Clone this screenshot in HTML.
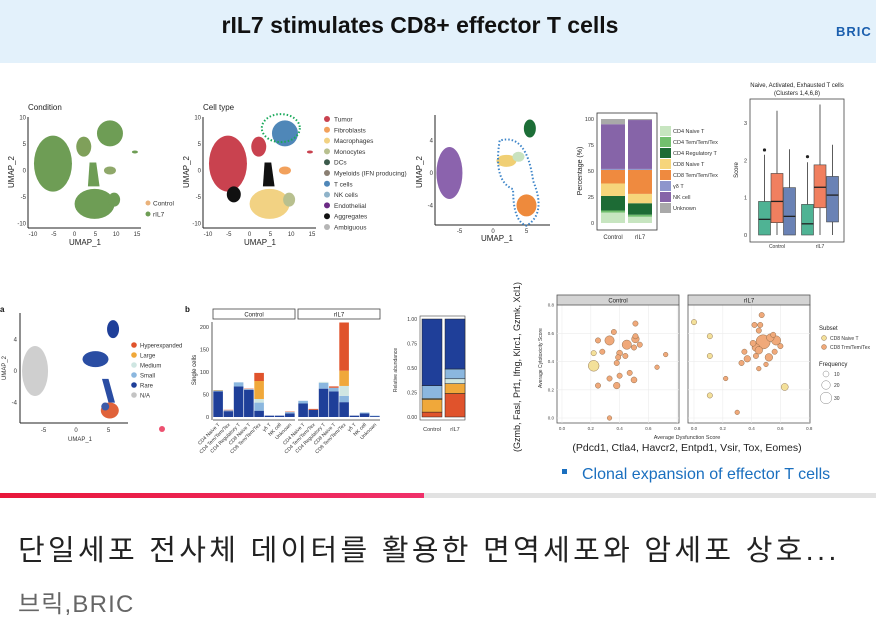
<!DOCTYPE html>
<html><head><meta charset="utf-8">
<style>
html,body{margin:0;padding:0;background:#fff;}
body{width:876px;height:628px;position:relative;overflow:hidden;font-family:"Liberation Sans",sans-serif;}
#hdr{position:absolute;left:0;top:0;width:876px;height:63px;background:#e3f1fb;}
#title{position:absolute;left:0;width:840px;top:12px;text-align:center;font-size:23px;font-weight:bold;color:#111;}
#logo{position:absolute;left:836px;top:24px;font-size:13px;font-weight:bold;color:#1b5fae;letter-spacing:1px;}
#prog{position:absolute;left:0;top:493px;width:876px;height:5px;background:#e2e2e2;}
#progfill{position:absolute;left:0;top:0;width:424px;height:5px;background:linear-gradient(90deg,#e8173a,#f0306a);}
#headline{position:absolute;left:18px;top:527px;font-size:29px;letter-spacing:3.3px;color:#222;font-family:"Liberation Sans","Noto Sans CJK KR",sans-serif;white-space:nowrap;}
#source{position:absolute;left:18px;top:584px;font-size:24px;letter-spacing:1.2px;color:#666;font-family:"Liberation Sans","Noto Sans CJK KR",sans-serif;}
svg text{font-family:"Liberation Sans",sans-serif;}
</style></head><body>
<div id="hdr">
  <div id="title">rIL7 stimulates CD8+ effector T cells</div>
  <div id="logo">BRIC</div>
</div>
<svg id="main" width="876" height="430" style="position:absolute;left:0;top:63px" viewBox="0 63 876 430"></svg>
<div id="prog"><div id="progfill"></div></div>
<div id="headline">단일세포 전사체 데이터를 활용한 면역세포와 암세포 상호...</div>
<div id="source">브릭,BRIC</div>
<script>
// ---------- data ----------
const stackCats = ["Control","rIL7"];
const stackSubsets = ["CD4 Naive T","CD4 Tem/Tem/Tex","CD4 Regulatory T","CD8 Naive T","CD8 Tem/Tem/Tex","γδ T","NK cell","Unknown"];
const stackControl = [10,2,14,12,13,1,43,5];
const stackRIL7 = [6,2,11,9,23,1,47,1];
const stackTicks = [0,25,50,75,100];

const boxGroups = ["Control","rIL7"];
// [whiskerLow, q1, median, q3, whiskerHigh, outlier]
const boxControl = [[0,0,0.42,0.9,2.15,2.28],[0,0.33,0.9,1.65,3.33,null],[0,0,0.5,1.27,2.3,null]];
const boxRIL7 = [[0,0,0.3,0.82,1.95,2.1],[0,0.73,1.28,1.88,3.5,null],[0,0.35,1.07,1.57,2.42,null]];
const boxTicks = [0,1,2,3];

const cloneCats = ["CD4 Naive T","CD4 Tem/Tem/Tex","CD4 Regulatory T","CD8 Naive T","CD8 Tem/Tem/Tex","γδ T","NK cell","Unknown"];
const cloneLevels = ["Rare","Small","Medium","Large","Hyperexpanded"];
const cloneControl = [[57,2,0,1,0],[13,2,0,0,1],[68,9,0,0,0],[60,2,0,0,1],[14,18,8,40,18],[3,0,0,0,0],[3,0,0,0,0],[8,3,0,0,1]];
const cloneRIL7 = [[30,6,0,0,0],[16,0,0,0,2],[63,13,2,0,0],[57,8,0,0,3],[33,14,22,34,107],[3,0,0,0,0],[8,2,0,0,0],[2,1,0,0,0]];
const cloneTicks = [0,50,100,150,200];

const relCats = ["Control","rIL7"];
const relControl = [0.68,0.13,0.01,0.13,0.05];
const relRIL7 = [0.51,0.10,0.05,0.10,0.24];
const relTicks = [0,0.25,0.5,0.75,1];

// scatter [x, y, size, subset(0 naive,1 tem)]
const scatControl = [[0.22,0.37,16,0],[0.22,0.46,4,0],[0.33,0.55,12,1],[0.45,0.52,12,1],[0.51,0.56,8,1],[0.28,0.47,4,1],[0.25,0.55,4,1],[0.36,0.61,4,1],[0.51,0.67,4,1],[0.40,0.46,5,1],[0.39,0.43,4,1],[0.44,0.44,4,1],[0.38,0.39,4,1],[0.50,0.50,4,1],[0.54,0.52,4,1],[0.51,0.58,4,1],[0.33,0.28,4,1],[0.40,0.30,4,1],[0.38,0.23,6,1],[0.47,0.32,4,1],[0.50,0.27,5,1],[0.25,0.23,4,1],[0.72,0.45,3,1],[0.66,0.36,3,1],[0.33,0.0,3,1]];
const scatRIL7 = [[0.48,0.54,28,1],[0.57,0.55,12,1],[0.53,0.57,8,1],[0.43,0.50,8,1],[0.45,0.48,8,1],[0.41,0.53,5,1],[0.52,0.43,8,1],[0.37,0.42,6,1],[0.35,0.47,4,1],[0.33,0.39,4,1],[0.55,0.59,4,1],[0.60,0.51,4,1],[0.56,0.47,4,1],[0.43,0.44,4,1],[0.45,0.62,4,1],[0.46,0.66,4,1],[0.42,0.66,4,1],[0.47,0.73,4,1],[0.45,0.35,3,1],[0.50,0.38,3,1],[0.22,0.28,3,1],[0.30,0.04,3,1],[0.63,0.22,7,0],[0.11,0.58,4,0],[0.11,0.44,4,0],[0.11,0.16,4,0],[0.0,0.68,4,0]];
const scatTicks = [0,0.2,0.4,0.6,0.8];

// ---------- helpers ----------
const NS="http://www.w3.org/2000/svg";
const svg=document.getElementById('main');
function el(tag,attrs,parent,txt){const e=document.createElementNS(NS,tag);for(const k in attrs)e.setAttribute(k,attrs[k]);if(txt!==undefined)e.textContent=txt;(parent||svg).appendChild(e);return e;}
function g(name){const e=el('g',{});return e;}

// ---------- UMAP shapes (illustrative) ----------
function umap(ox,name,colors){
  const G=g(name);
  const sx=v=>ox+(v+10)*4.16, sy=v=>170.5-v*5.3;
  el('line',{x1:ox-5,y1:117,x2:ox-5,y2:228,stroke:'#222','stroke-width':1},G);
  el('line',{x1:ox-5,y1:228,x2:ox+108,y2:228,stroke:'#222','stroke-width':1},G);
  [-10,-5,0,5,10,15].forEach(t=>el('text',{x:sx(t),y:236,'font-size':6,'text-anchor':'middle',fill:'#333'},G,t));
  [10,5,0,-5,-10].forEach(t=>el('text',{x:ox-7,y:sy(t)+2,'font-size':6,'text-anchor':'end',fill:'#333'},G,t));
  el('text',{x:sx(2.5),y:245,'font-size':8,'text-anchor':'middle',fill:'#222'},G,'UMAP_1');
  el('text',{x:0,y:0,'font-size':8,'text-anchor':'middle',fill:'#222',transform:`translate(${ox-19},172) rotate(-90)`},G,'UMAP_2');
  const c=colors;
  el('ellipse',{cx:sx(-5.2),cy:sy(1.3),rx:19,ry:28,fill:c.left},G);
  el('ellipse',{cx:sx(4.8),cy:sy(-6.3),rx:20,ry:15,fill:c.bottom},G);
  el('path',{d:`M${sx(3.2)} ${sy(-3)} L${sx(3.6)} ${sy(1.5)} L${sx(5.2)} ${sy(1.5)} L${sx(6)} ${sy(-3)} Z`,fill:c.stem},G);
  el('ellipse',{cx:sx(2.2),cy:sy(4.5),rx:7.5,ry:10,fill:c.small},G);
  el('ellipse',{cx:sx(8.5),cy:sy(7),rx:13,ry:13,fill:c.top},G);
  el('ellipse',{cx:sx(9.5),cy:sy(-5.5),rx:6,ry:7,fill:c.mono},G);
  el('ellipse',{cx:sx(8.5),cy:sy(0),rx:6,ry:4,fill:c.fib},G);
  el('ellipse',{cx:sx(14.5),cy:sy(3.5),rx:3,ry:1.5,fill:c.left},G);
  return {G,sx,sy};
}
el('text',{x:28,y:110,'font-size':8,fill:'#222'},null,'Condition');
const u1=umap(33,'umap-condition',{left:'#6e9d55',bottom:'#6e9d55',stem:'#6e9d55',small:'#7fa05a',top:'#6e9d55',mono:'#6e9d55',fib:'#8fa86a'});
[['Control','#eab27b',203],['rIL7','#6e9d55',214]].forEach(([t,c,y])=>{const L=g('legend-entry');el('circle',{cx:148,cy:y,r:2.5,fill:c},L);el('text',{x:153,y:y+2.5,'font-size':6.5,fill:'#333'},L,t);});

el('text',{x:203,y:110,'font-size':8,fill:'#222'},null,'Cell type');
const u2=umap(208,'umap-cell-type',{left:'#c9424f',bottom:'#f2d283',stem:'#111',small:'#c9424f',top:'#4f87b8',mono:'#b8c08f',fib:'#f2a15c'});
el('ellipse',{cx:u2.sx(-3.8),cy:u2.sy(-4.5),rx:7,ry:8,fill:'#111'},u2.G);
el('ellipse',{cx:u2.sx(7.5),cy:u2.sy(8),rx:19,ry:14,fill:'none',stroke:'#19a95a','stroke-width':2,'stroke-dasharray':'1.5,2'},u2.G);
const ctNames=['Tumor','Fibroblasts','Macrophages','Monocytes','DCs','Myeloids (IFN producing)','T cells','NK cells','Endothelial','Aggregates','Ambiguous'];
const ctCols=['#c9424f','#f2a15c','#f2d283','#b8c08f','#3b5a4b','#8a7f72','#4f87b8','#8fb3c9','#6b2a84','#111','#b5b5b5'];
ctNames.forEach((t,i)=>{const L=g('legend-entry');const y=119+i*10.8;el('circle',{cx:327,cy:y,r:3,fill:ctCols[i]},L);el('text',{x:334,y:y+2.5,'font-size':6.5,fill:'#333'},L,t);});

// UMAP T cells (panel 3)
(function(){
  const G=g('umap-t-cells');
  const sx=v=>493+v*6.7, sy=v=>173-v*8.1;
  el('line',{x1:435,y1:115,x2:435,y2:225,stroke:'#222'},G);
  el('line',{x1:435,y1:225,x2:550,y2:225,stroke:'#222'},G);
  [-5,0,5].forEach(t=>el('text',{x:sx(t),y:233,'font-size':6,'text-anchor':'middle',fill:'#333'},G,t));
  [4,0,-4].forEach(t=>el('text',{x:433,y:sy(t)+2,'font-size':6,'text-anchor':'end',fill:'#333'},G,t));
  el('text',{x:497,y:241,'font-size':8,'text-anchor':'middle',fill:'#222'},G,'UMAP_1');
  el('text',{x:0,y:0,'font-size':8,'text-anchor':'middle',fill:'#222',transform:'translate(422,172) rotate(-90)'},G,'UMAP_2');
  el('ellipse',{cx:sx(-6.5),cy:sy(0),rx:13,ry:26,fill:'#8b63ad'},G);
  el('ellipse',{cx:sx(5.5),cy:sy(5.5),rx:6,ry:9,fill:'#1c6e37'},G);
  el('ellipse',{cx:sx(2),cy:sy(1.5),rx:10,ry:6,fill:'#f0cf74'},G);
  el('ellipse',{cx:sx(3.8),cy:sy(2),rx:6,ry:5,fill:'#c9e2bf'},G);
  el('ellipse',{cx:sx(5),cy:sy(-4),rx:10,ry:11,fill:'#ee8a3c'},G);
  el('path',{d:`M${sx(1)} ${sy(4)} Q${sx(0)} ${sy(-1)} ${sx(3)} ${sy(-2)} Q${sx(3)} ${sy(-6)} ${sx(5)} ${sy(-6.5)} Q${sx(8)} ${sy(-5)} ${sx(6)} ${sy(-1)} Q${sx(5)} ${sy(5)} ${sx(1)} ${sy(4)}`,fill:'none',stroke:'#3f86c9','stroke-width':2,'stroke-dasharray':'1.5,2'},G);
})();

// ---------- stacked percentage bars ----------
(function(){
  const G=g('percentage-stacked-chart');
  const cols=['#c7e5c0','#72bf6e','#1d6b35','#f6d57b','#ef8a3f','#8e96cc','#8664a8','#a9a9a9'];
  const y0=223,y1=119, ys=v=>y0-(v/100)*(y0-y1);
  el('rect',{x:597,y:113,width:60,height:117,fill:'#fff',stroke:'#333','stroke-width':0.8},G);
  stackTicks.forEach(t=>{el('text',{x:594,y:ys(t)+2,'font-size':5.5,'text-anchor':'end',fill:'#333'},G,t);});
  el('text',{x:0,y:0,'font-size':7,'text-anchor':'middle',fill:'#222',transform:'translate(582,171) rotate(-90)'},G,'Percentage (%)');
  [stackControl,stackRIL7].forEach((vals,i)=>{
    const x=601+i*27; let acc=0;
    vals.forEach((v,j)=>{const r=el('rect',{x:x,y:ys(acc+v),width:24,height:ys(acc)-ys(acc+v),fill:cols[j]},G);acc+=v;});
    el('text',{x:x+12,y:239,'font-size':6,'text-anchor':'middle',fill:'#333'},G,stackCats[i]);
  });
  stackSubsets.forEach((t,i)=>{const L=g('legend-entry');const y=126+i*11;el('rect',{x:660,y:y,width:11,height:10,fill:cols[i]},L);el('text',{x:673,y:y+7,'font-size':5.5,fill:'#333'},L,t);});
})();

// ---------- boxplot ----------
(function(){
  const G=g('score-boxplot');
  const cols=['#4fb394','#f07f5f','#6a82b5'];
  const ys=v=>235-v*37.3;
  el('text',{x:797,y:87,'font-size':6,'text-anchor':'middle',fill:'#222'},G,'Naive, Activated, Exhausted T cells');
  el('text',{x:797,y:95,'font-size':6,'text-anchor':'middle',fill:'#222'},G,'(Clusters 1,4,6,8)');
  el('rect',{x:750,y:99,width:94,height:143,fill:'#fff',stroke:'#444','stroke-width':0.8},G);
  boxTicks.forEach(t=>el('text',{x:747,y:ys(t)+2,'font-size':5.5,'text-anchor':'end',fill:'#333'},G,t));
  el('text',{x:0,y:0,'font-size':6,'text-anchor':'middle',fill:'#222',transform:'translate(738,170) rotate(-90)'},G,'Score');
  [boxControl,boxRIL7].forEach((grp,i)=>{
    const cx=777+i*43;
    el('text',{x:cx,y:248,'font-size':5,'text-anchor':'middle',fill:'#333'},G,boxGroups[i]);
    grp.forEach((b,j)=>{
      const x=cx+(j-1)*12.5; const B=g('box');G.appendChild(B);
      el('line',{x1:x,y1:ys(b[0]),x2:x,y2:ys(b[4]),stroke:'#333','stroke-width':0.8},B);
      el('rect',{x:x-6,y:ys(b[3]),width:12,height:ys(b[1])-ys(b[3]),fill:cols[j],stroke:'#444','stroke-width':0.6},B);
      el('line',{x1:x-6,y1:ys(b[2]),x2:x+6,y2:ys(b[2]),stroke:'#222','stroke-width':1.3},B);
      if(b[5]!==null)el('circle',{cx:x,cy:ys(b[5]),r:1.6,fill:'#222'},B);
    });
  });
})();

// ---------- clonotype UMAP (a) ----------
(function(){
  const G=g('umap-clonotype');
  el('text',{x:0,y:312,'font-size':8,'font-weight':'bold',fill:'#111'},G,'a');
  const sx=v=>76+v*6.5, sy=v=>371-v*7.9;
  el('line',{x1:20,y1:313,x2:20,y2:423,stroke:'#222'},G);
  el('line',{x1:20,y1:423,x2:128,y2:423,stroke:'#222'},G);
  [-5,0,5].forEach(t=>el('text',{x:sx(t),y:432,'font-size':6,'text-anchor':'middle',fill:'#333'},G,t));
  [4,0,-4].forEach(t=>el('text',{x:17,y:sy(t)+2,'font-size':6,'text-anchor':'end',fill:'#333'},G,t));
  el('text',{x:80,y:441,'font-size':6,'text-anchor':'middle',fill:'#333'},G,'UMAP_1');
  el('text',{x:0,y:0,'font-size':6,'text-anchor':'middle',fill:'#333',transform:'translate(6,368) rotate(-90)'},G,'UMAP_2');
  el('ellipse',{cx:sx(-6.3),cy:sy(0),rx:13,ry:25,fill:'#cfcfcf'},G);
  el('ellipse',{cx:sx(5.7),cy:sy(5.3),rx:6,ry:9,fill:'#1f3f99'},G);
  el('ellipse',{cx:sx(3),cy:sy(1.5),rx:13,ry:8,fill:'#2a4da3'},G);
  el('path',{d:`M${sx(4)} ${sy(-1)} L${sx(5)} ${sy(-4)} L${sx(6)} ${sy(-4)} L${sx(5)} ${sy(-1)} Z`,fill:'#2a4da3'},G);
  el('ellipse',{cx:sx(5.2),cy:sy(-5),rx:9,ry:8,fill:'#e0623a'},G);
  el('ellipse',{cx:sx(4.5),cy:sy(-4.5),rx:4,ry:4,fill:'#3e5ba8'},G);
  el('circle',{cx:162,cy:429,r:3,fill:'#e8264c',opacity:0.8},G);
  const nm=['Hyperexpanded','Large','Medium','Small','Rare','N/A'],cc=['#e0532c','#f0a83a','#cfe6e2','#8bb7df','#1f3f99','#c4c4c4'];
  nm.forEach((t,i)=>{const L=g('legend-entry');const y=345+i*10;el('circle',{cx:134,cy:y,r:2.8,fill:cc[i]},L);el('text',{x:140,y:y+2.3,'font-size':6,fill:'#333'},L,t);});
})();

// ---------- clone size bar chart (b) ----------
(function(){
  const G=g('clone-bar-chart');
  const cols=['#1f3f99','#8bb7df','#cfe6e2','#f0a83a','#e0532c'];
  const ys=v=>417-v*0.45;
  el('text',{x:185,y:312,'font-size':8,'font-weight':'bold',fill:'#111'},G,'b');
  el('line',{x1:212,y1:322,x2:212,y2:420,stroke:'#333','stroke-width':0.8},G);
  cloneTicks.forEach(t=>el('text',{x:209,y:ys(t)+2,'font-size':5.5,'text-anchor':'end',fill:'#333'},G,t));
  el('text',{x:0,y:0,'font-size':6,'text-anchor':'middle',fill:'#222',transform:'translate(196,370) rotate(-90)'},G,'Single cells');
  [[cloneControl,'Control',213],[cloneRIL7,'rIL7',298]].forEach(([data,lab,x0])=>{
    el('rect',{x:x0,y:309,width:82,height:10,fill:'#fff',stroke:'#444','stroke-width':0.8},G);
    el('text',{x:x0+41,y:316.5,'font-size':6,'text-anchor':'middle',fill:'#222'},G,lab);
    el('line',{x1:x0,y1:420,x2:x0+82,y2:420,stroke:'#333','stroke-width':0.8},G);
    data.forEach((vals,i)=>{
      const x=x0+i*10.25; let acc=0;
      vals.forEach((v,j)=>{if(v<=0)return;const r=el('rect',{x:x+0.3,y:ys(acc+v),width:9.6,height:ys(acc)-ys(acc+v),fill:cols[j]},G);acc+=v;});
      el('text',{x:0,y:0,'font-size':5,'text-anchor':'end',fill:'#333',transform:`translate(${x+7},425) rotate(-45)`},G,cloneCats[i]);
    });
  });
  const ry=v=>417-v*98;
  el('rect',{x:420,y:316,width:45,height:104,fill:'#fff',stroke:'#444','stroke-width':0.6},G);
  relTicks.forEach(t=>el('text',{x:417,y:ry(t)+2,'font-size':5,'text-anchor':'end',fill:'#333'},G,t.toFixed(2)));
  el('text',{x:0,y:0,'font-size':5,'text-anchor':'middle',fill:'#333',transform:'translate(397,370) rotate(-90)'},G,'Relative abundance');
  [relControl,relRIL7].forEach((vals,i)=>{
    const x=422+i*23; let acc=0;
    const order=[4,3,2,1,0];
    order.forEach(j=>{const v=vals[j];const r=el('rect',{x:x,y:ry(acc+v),width:20,height:ry(acc)-ry(acc+v),fill:cols[j],stroke:'#222','stroke-width':0.5},G);acc+=v;});
    el('text',{x:x+10,y:431,'font-size':5.5,'text-anchor':'middle',fill:'#333'},G,relCats[i]);
  });
})();

// ---------- scatter ----------
(function(){
  const G=g('cytotoxicity-scatter');
  const ys=v=>418-v*141;
  el('text',{x:0,y:0,'font-size':9,'text-anchor':'middle',fill:'#222',transform:'translate(520,367) rotate(-90)'},G,'(Gzmb, Fasl, Prf1, Ifng, Klrc1, Gzmk, Xcl1)');
  el('text',{x:0,y:0,'font-size':5,'text-anchor':'middle',fill:'#333',transform:'translate(542,358) rotate(-90)'},G,'Average Cytotoxicity Score');
  [[scatControl,'Control',557,562],[scatRIL7,'rIL7',688,694]].forEach(([data,lab,px,x0])=>{
    const xs=v=>x0+v*144;
    el('rect',{x:px,y:305,width:122,height:118,fill:'#fff',stroke:'#555','stroke-width':0.8},G);
    scatTicks.forEach(t=>{el('line',{x1:xs(t),y1:305,x2:xs(t),y2:423,stroke:'#ececec','stroke-width':0.6},G);el('line',{x1:px,y1:ys(t),x2:px+122,y2:ys(t),stroke:'#ececec','stroke-width':0.6},G);el('text',{x:xs(t),y:430,'font-size':4.5,'text-anchor':'middle',fill:'#444'},G,t.toFixed(1));});
    if(lab==='Control')scatTicks.forEach(t=>el('text',{x:554,y:ys(t)+1.5,'font-size':4.5,'text-anchor':'end',fill:'#444'},G,t.toFixed(1)));
    el('rect',{x:px,y:295,width:122,height:10,fill:'#d4d4d4',stroke:'#555','stroke-width':0.8},G);
    el('text',{x:px+61,y:302.5,'font-size':6,'text-anchor':'middle',fill:'#222'},G,lab);
    data.forEach(d=>{const c=el('circle',{cx:xs(d[0]),cy:ys(d[1]),r:Math.sqrt(d[2])*1.35,fill:d[3]?'#f0a97a':'#f3e09a',stroke:'#7a5a3a','stroke-width':0.4},G);});
  });
  el('text',{x:687,y:439,'font-size':5.5,'text-anchor':'middle',fill:'#333'},G,'Average Dysfunction Score');
  el('text',{x:687,y:451,'font-size':10.5,'text-anchor':'middle',fill:'#222'},G,'(Pdcd1, Ctla4, Havcr2, Entpd1, Vsir, Tox, Eomes)');
  el('text',{x:819,y:330,'font-size':6,fill:'#222'},G,'Subset');
  [['CD8 Naive T','#f3e09a',338],['CD8 Trm/Tem/Tex','#f0a97a',347]].forEach(([t,c,y])=>{const L=g('legend-entry');el('circle',{cx:824,cy:y,r:2.5,fill:c,stroke:'#7a5a3a','stroke-width':0.4},L);el('text',{x:830,y:y+2,'font-size':5,fill:'#333'},L,t);});
  el('text',{x:819,y:366,'font-size':6,fill:'#222'},G,'Frequency');
  [[10,374,3],[20,385,4.3],[30,398,5.8]].forEach(([t,y,r])=>{const L=g('legend-entry');el('circle',{cx:826,cy:y,r:r,fill:'none',stroke:'#888','stroke-width':0.5},L);el('text',{x:834,y:y+2,'font-size':5,fill:'#333'},L,t);});
  el('rect',{x:562,y:469,width:5,height:5,fill:'#1a6fbf'},G);
  el('text',{x:582,y:479,'font-size':16,fill:'#1a6fbf'},G,'Clonal expansion of effector T cells');
})();
</script>
</body></html>
